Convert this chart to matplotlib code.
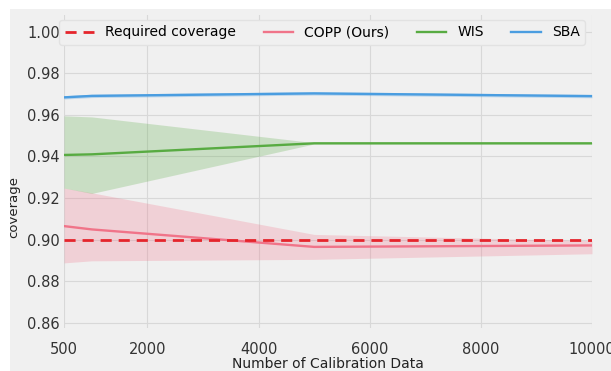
import matplotlib
matplotlib.use("Agg")
import matplotlib.pyplot as plt
from matplotlib.patches import Rectangle

# calibration set sizes
n_calib = [500, 1000, 5000, 10000]
required = 0.90

copp_mean = [0.9065, 0.9049, 0.8965, 0.8972]
copp_low = [0.8888, 0.8898, 0.8905, 0.8932]
copp_high = [0.9248, 0.9225, 0.9025, 0.8995]

wis_mean = [0.9407, 0.9410, 0.9463, 0.9463]
wis_low = [0.9248, 0.9222, 0.9460, 0.9460]
wis_high = [0.9595, 0.9590, 0.9466, 0.9466]

sba_mean = [0.9684, 0.9691, 0.9703, 0.9690]
sba_low = [0.9676, 0.9683, 0.9695, 0.9682]
sba_high = [0.9692, 0.9699, 0.9711, 0.9698]

xticks = [500, 2000, 4000, 6000, 8000, 10000]
yticks = [0.86, 0.88, 0.90, 0.92, 0.94, 0.96, 0.98, 1.00]

bg = "#f0f0f0"
c_req = "#e5252c"
c_copp = "#f07489"
c_wis = "#58ab42"
c_sba = "#4a9de0"

fig = plt.figure(figsize=(6.11, 3.71), dpi=100, facecolor="white")
fig.patches.append(Rectangle((10 / 611, 0), 1, 1 - 9 / 371, transform=fig.transFigure,
                             facecolor=bg, edgecolor="none", zorder=-10))
ax = fig.add_axes([64 / 611, 1 - 328 / 371, 528 / 611, 313 / 371])
ax.set_facecolor(bg)

ax.fill_between(n_calib, copp_low, copp_high, color=c_copp, alpha=0.25, lw=0)
ax.fill_between(n_calib, wis_low, wis_high, color=c_wis, alpha=0.25, lw=0)
ax.fill_between(n_calib, sba_low, sba_high, color=c_sba, alpha=0.3, lw=0)

ax.plot([n_calib[0], n_calib[-1]], [required, required], "--", color=c_req, lw=2,
        dashes=(4, 2.5), label="Required coverage", zorder=4)
ax.plot(n_calib, copp_mean, color=c_copp, lw=1.7, label="COPP (Ours)", zorder=3)
ax.plot(n_calib, wis_mean, color=c_wis, lw=1.7, label="WIS", zorder=3)
ax.plot(n_calib, sba_mean, color=c_sba, lw=1.7, label="SBA", zorder=3)

ax.set_xlim(500, 10000)
ax.set_ylim(0.8575, 1.008)
ax.set_xticks(xticks)
ax.set_yticks(yticks)
ax.set_yticklabels([f"{v:.2f}" for v in yticks])
ax.tick_params(length=0, labelsize=10.5, colors="#333333")
ax.tick_params(axis="y", pad=3)
ax.tick_params(axis="x", pad=10)
ax.grid(True, color="#d8d8d8", lw=0.8)
ax.set_axisbelow(True)
for s in ax.spines.values():
    s.set_visible(False)

ax.set_xlabel("Number of Calibration Data", fontsize=10, color="#222222", labelpad=0)
ax.set_ylabel("coverage", fontsize=9.5, color="#222222")
ax.yaxis.set_label_coords(-0.083, 0.387)

leg = ax.legend(loc="upper center", ncol=4, fontsize=10, frameon=True, fancybox=True,
                bbox_to_anchor=(0.489, 1.0), handlelength=2.1, columnspacing=2.0,
                handletextpad=0.8, borderaxespad=0.35)
leg.get_frame().set_facecolor(bg)
leg.get_frame().set_edgecolor("#e2e2e2")
leg.get_frame().set_alpha(1)

fig.savefig("out.png", dpi=100, facecolor="white")
